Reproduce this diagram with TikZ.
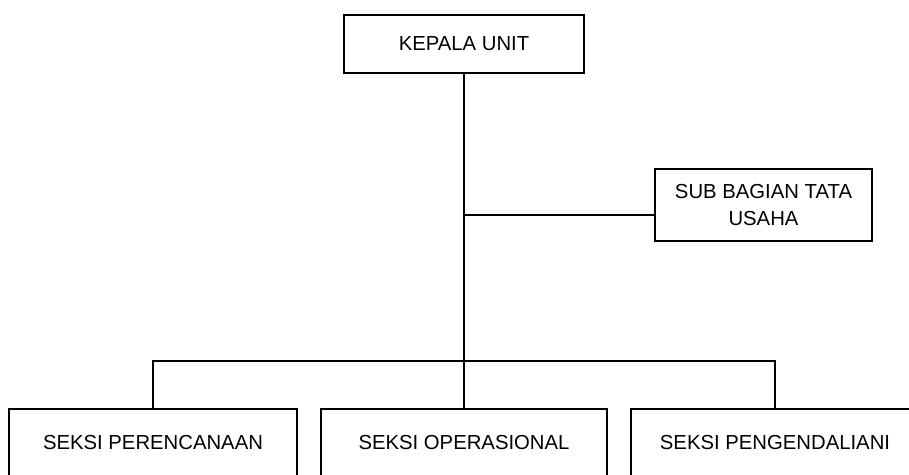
\documentclass[tikz,border=0pt]{standalone}
\usepackage{fontspec}
\setmainfont{Liberation Sans}
\usepackage{tikz}

\begin{document}
\begin{tikzpicture}[x=1pt, y=1pt,
    unitbox/.style={draw, line width=1.2pt, inner sep=0pt, align=center,
        font=\fontsize{20.3}{27}\selectfont}]
            \useasboundingbox (0,0) rectangle (909,474);
            \node[unitbox, minimum width=240, minimum height=58] (kepala) at (464,430) {KEPALA UNIT};
            \node[unitbox, minimum width=217, minimum height=72] (tatausaha) at (763.5,269) {SUB BAGIAN TATA\\USAHA};
            \node[unitbox, minimum width=288, minimum height=68] (rencana) at (153,31) {SEKSI PERENCANAAN};
            \node[unitbox, minimum width=286, minimum height=68] (operasi) at (464,31) {SEKSI OPERASIONAL};
            \node[unitbox, minimum width=288, minimum height=68] (kendali) at (775,31) {SEKSI PENGENDALIANI};
            \coordinate (cabang) at (464,259);
            \coordinate (bus) at (464,113);
            \draw[line width=1.2pt] (kepala) -- (operasi);
            \draw[line width=1.2pt] (cabang) -- (cabang -| tatausaha.west);
            \draw[line width=1.2pt] (rencana.north) |- (bus) -| (kendali.north);
        \end{tikzpicture}
\end{document}
